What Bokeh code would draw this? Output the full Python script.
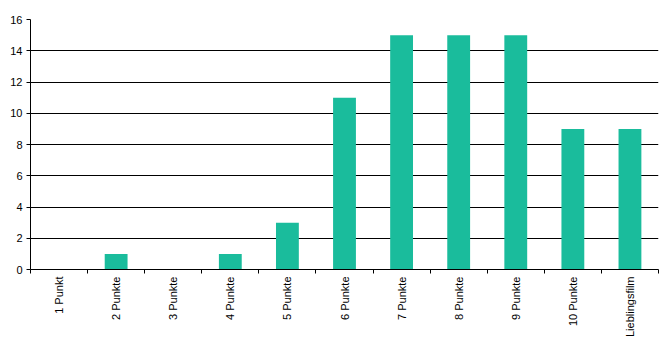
import math
from bokeh.plotting import figure
from bokeh.models import Range1d, FixedTicker, ColumnDataSource
from bokeh.embed import file_html
from bokeh.resources import INLINE

categories = ["1 Punkt", "2 Punkte", "3 Punkte", "4 Punkte", "5 Punkte", "6 Punkte",
              "7 Punkte", "8 Punkte", "9 Punkte", "10 Punkte", "Lieblingsfilm"]
counts = [0, 1, 0, 1, 3, 11, 15, 15, 15, 9, 9]
y_ticks = [0, 2, 4, 6, 8, 10, 12, 14, 16]

centers = [i + 0.5 for i in range(len(categories))]
src = ColumnDataSource(data=dict(x=centers, top=counts))

p = figure(width=670, height=340, output_backend="svg", toolbar_location=None,
           x_range=Range1d(0, len(categories)), y_range=Range1d(0, 16),
           min_border_left=30, min_border_right=12, min_border_top=19, min_border_bottom=71)
p.outline_line_color = None
p.background_fill_color = "white"

p.vbar(x="x", top="top", width=0.4, source=src, color="#1ABC9C", line_color=None)

font = "Liberation Sans"
# x axis
p.xaxis.ticker = FixedTicker(ticks=centers, minor_ticks=list(range(len(categories) + 1)))
p.xaxis.major_label_overrides = {c: lab for c, lab in zip(centers, categories)}
p.xaxis.major_label_orientation = math.pi / 2
p.xaxis.major_tick_out = 0
p.xaxis.major_tick_in = 0
p.xaxis.minor_tick_out = 4
p.xaxis.minor_tick_in = 0
p.xaxis.minor_tick_line_color = "black"
p.xaxis.axis_line_color = "black"
p.xaxis.major_label_standoff = 3
p.xaxis.major_label_text_font = font
p.xaxis.major_label_text_font_size = "11px"
p.xaxis.major_label_text_color = "black"

# y axis
p.yaxis.ticker = FixedTicker(ticks=y_ticks)
p.yaxis.major_tick_out = 4
p.yaxis.major_tick_in = 0
p.yaxis.minor_tick_line_color = None
p.yaxis.major_tick_line_color = "black"
p.yaxis.axis_line_color = "black"
p.yaxis.major_label_standoff = 4
p.yaxis.major_label_text_font = font
p.yaxis.major_label_text_font_size = "11px"
p.yaxis.major_label_text_color = "black"

p.xgrid.grid_line_color = None
p.ygrid.grid_line_color = "black"
p.ygrid.grid_line_width = 1
p.ygrid.ticker = FixedTicker(ticks=y_ticks)

open("out.html", "w").write(file_html(p, INLINE))
